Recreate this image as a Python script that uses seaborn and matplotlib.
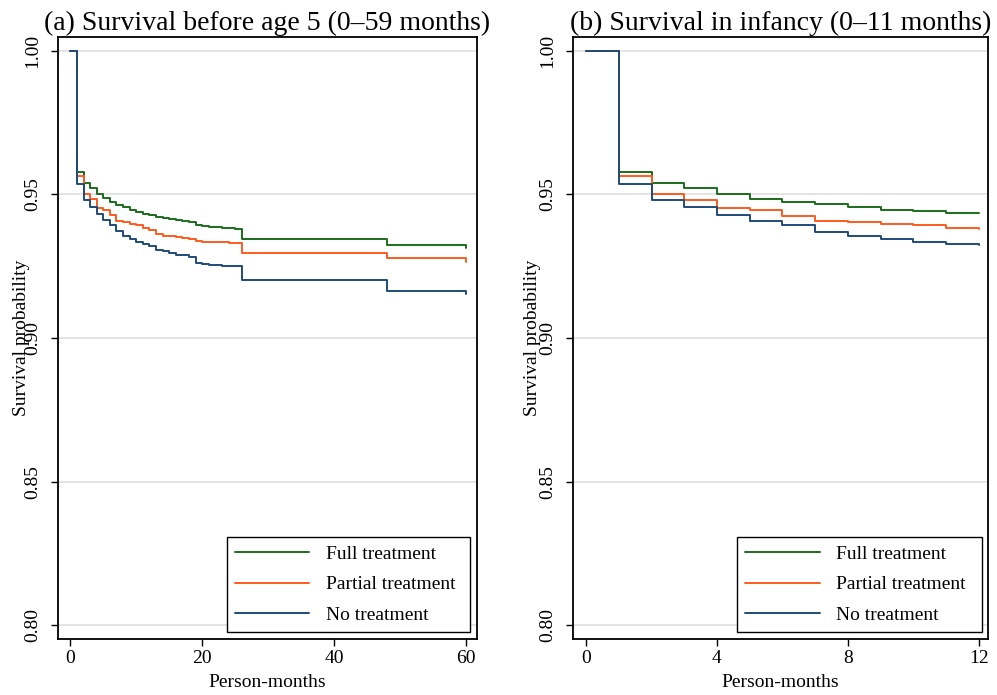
"""
Kaplan-Meier style survival curves by treatment group
(a) under-five survival, (b) infant survival
"""

import pandas as pd
import matplotlib
matplotlib.use('Agg')
import matplotlib.pyplot as plt
import seaborn as sns

# Set style
sns.set_theme(style='ticks')
plt.rcParams['font.family'] = ['Liberation Serif', 'DejaVu Serif']
for key in ['text.color', 'axes.labelcolor', 'xtick.color', 'ytick.color']:
    plt.rcParams[key] = 'black'

# ---- data ----
groups = ['Full treatment', 'Partial treatment', 'No treatment']
colors = {'Full treatment': '#1a6e1a',
          'Partial treatment': '#ff5a1e',
          'No treatment': '#1f4b7a'}

# panel (a): 0-59 months
months_a = [0, 1, 2, 3, 4, 5, 6, 7, 8, 9, 10, 11, 12, 13, 14, 15, 16, 17, 18,
            19, 20, 21, 22, 23, 24, 25, 26, 48, 60]
full_a = [1.0, 0.9578, 0.9541, 0.9524, 0.9500, 0.9486, 0.9473, 0.9465, 0.9456,
          0.9445, 0.9440, 0.9433, 0.9427, 0.9422, 0.9419, 0.9415, 0.9411,
          0.9407, 0.9404, 0.9392, 0.9389, 0.9387, 0.9385, 0.9384, 0.9383,
          0.9381, 0.9346, 0.9324, 0.9312]
partial_a = [1.0, 0.9564, 0.9503, 0.9483, 0.9454, 0.9445, 0.9427, 0.9408,
             0.9403, 0.9397, 0.9392, 0.9384, 0.9378, 0.9361, 0.9356, 0.9354,
             0.9353, 0.9349, 0.9346, 0.9338, 0.9335, 0.9334, 0.9334, 0.9333,
             0.9332, 0.9331, 0.9296, 0.9280, 0.9266]
none_a = [1.0, 0.9537, 0.9481, 0.9457, 0.9432, 0.9411, 0.9394, 0.9374, 0.9357,
          0.9346, 0.9334, 0.9327, 0.9319, 0.9306, 0.9302, 0.9296, 0.9291,
          0.9288, 0.9284, 0.9260, 0.9258, 0.9256, 0.9254, 0.9252, 0.9251,
          0.9250, 0.9202, 0.9165, 0.9153]

# panel (b): 0-11 months
months_b = [0, 1, 2, 3, 4, 5, 6, 7, 8, 9, 10, 11, 12]
full_b = [1.0, 0.9578, 0.9541, 0.9524, 0.9500, 0.9485, 0.9473, 0.9466, 0.9457,
          0.9447, 0.9443, 0.9435, 0.9434]
partial_b = [1.0, 0.9564, 0.9503, 0.9481, 0.9452, 0.9445, 0.9426, 0.9409,
             0.9403, 0.9397, 0.9393, 0.9382, 0.9381]
none_b = [1.0, 0.9537, 0.9480, 0.9456, 0.9428, 0.9408, 0.9393, 0.9371, 0.9356,
          0.9346, 0.9335, 0.9327, 0.9325]

yticks = [0.80, 0.85, 0.90, 0.95, 1.00]
xticks_a = [0, 20, 40, 60]
xticks_b = [0, 4, 8, 12]


def long_df(months, series):
    rows = []
    for g, vals in zip(groups, series):
        for m, v in zip(months, vals):
            rows.append({'month': m, 'survival': v, 'group': g})
    return pd.DataFrame(rows)


df_a = long_df(months_a, [full_a, partial_a, none_a])
df_b = long_df(months_b, [full_b, partial_b, none_b])

fig = plt.figure(figsize=(9.97, 6.95), dpi=100)
ax_a = fig.add_axes([0.0582, 0.0806, 0.4203, 0.8662])
ax_b = fig.add_axes([0.5747, 0.0806, 0.4162, 0.8662])

panels = [
    (ax_a, df_a, '(a) Survival before age 5 (0\u201359 months)', xticks_a,
     (-1.87, 61.7), 0.403, 0.581, -0.066),
    (ax_b, df_b, '(b) Survival in infancy (0\u201311 months)', xticks_b,
     (-0.40, 12.28), 0.396, 0.590, -0.076),
]

for ax, d, title, xt, xl, leg_x, leg_w, lab_x in panels:
    # horizontal grid lines
    for yv in yticks:
        ax.axhline(yv, color='#e2e2e2', linewidth=1.3, zorder=0)

    sns.lineplot(data=d, x='month', y='survival', hue='group', hue_order=groups,
                 palette=colors, drawstyle='steps-post', linewidth=1.4,
                 estimator=None, ax=ax)

    ax.set_xlim(*xl)
    ax.set_ylim(0.7953, 1.0048)
    ax.set_xticks(xt)
    ax.set_yticks(yticks)
    ax.set_yticklabels([f'{v:.2f}' for v in yticks], rotation=90, va='center')
    ax.tick_params(axis='both', labelsize=14, length=5, width=1, color='black')
    ax.tick_params(axis='x', pad=3)
    ax.tick_params(axis='y', pad=7)
    for sp in ax.spines.values():
        sp.set_color('black')
        sp.set_linewidth(1.3)

    ax.set_title(title, fontsize=20, pad=5)
    ax.set_xlabel('Person-months', fontsize=14, labelpad=5)
    ax.set_ylabel('Survival probability', fontsize=14)
    ax.yaxis.set_label_coords(lab_x, 0.5)

    leg = ax.legend(loc='lower left', bbox_to_anchor=(leg_x, 0.0116, leg_w, 0.16),
                    mode='expand', fontsize=14, frameon=True, fancybox=False,
                    edgecolor='black', framealpha=1, borderaxespad=0,
                    borderpad=0.4, labelspacing=0.68, handlelength=3.84,
                    handletextpad=0.85, title=None)
    leg.get_frame().set_linewidth(1.0)

plt.savefig('out.png', dpi=100)
plt.close()
